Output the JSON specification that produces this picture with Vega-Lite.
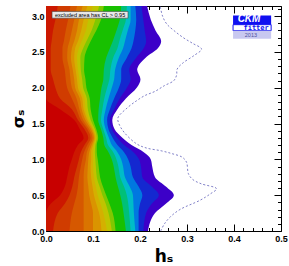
{
  "$schema": "https://vega.github.io/schema/vega-lite/v6.json",
  "width": 235,
  "height": 225,
  "autosize": {"type": "none"},
  "padding": {"left": 46, "top": 6, "right": 8, "bottom": 35},
  "background": "white",
  "config": {"view": {"stroke": "black", "strokeWidth": 1}, "font": "Liberation Sans"},
  "datasets": {
    "cl": [
      {"s": 0, "t1": 0, "t2": 0.015, "t3": 0.05, "t4": 0.08, "t5": 0.1, "t6": 0.118, "t7": 0.13, "t8": 0.14, "t9": 0.148, "t10": 0.17, "t11": 0.18, "t12": 0.19, "t13": 0.197, "t14": 0.207, "t15": 0.217},
      {"s": 0.25, "t1": 0, "t2": 0.025, "t3": 0.055, "t4": 0.08, "t5": 0.1, "t6": 0.113, "t7": 0.122, "t8": 0.133, "t9": 0.142, "t10": 0.165, "t11": 0.177, "t12": 0.187, "t13": 0.197, "t14": 0.213, "t15": 0.232},
      {"s": 0.38, "t1": 0.01, "t2": 0.04, "t3": 0.06, "t4": 0.08, "t5": 0.096, "t6": 0.107, "t7": 0.116, "t8": 0.127, "t9": 0.135, "t10": 0.162, "t11": 0.175, "t12": 0.186, "t13": 0.2, "t14": 0.225, "t15": 0.255},
      {"s": 0.5, "t1": 0.03, "t2": 0.05, "t3": 0.065, "t4": 0.08, "t5": 0.092, "t6": 0.102, "t7": 0.11, "t8": 0.12, "t9": 0.128, "t10": 0.158, "t11": 0.172, "t12": 0.185, "t13": 0.205, "t14": 0.24, "t15": 0.272},
      {"s": 0.62, "t1": 0.04, "t2": 0.056, "t3": 0.068, "t4": 0.08, "t5": 0.09, "t6": 0.099, "t7": 0.106, "t8": 0.114, "t9": 0.121, "t10": 0.153, "t11": 0.166, "t12": 0.178, "t13": 0.197, "t14": 0.225, "t15": 0.255},
      {"s": 0.75, "t1": 0.045, "t2": 0.06, "t3": 0.07, "t4": 0.08, "t5": 0.088, "t6": 0.096, "t7": 0.102, "t8": 0.108, "t9": 0.115, "t10": 0.148, "t11": 0.158, "t12": 0.168, "t13": 0.185, "t14": 0.205, "t15": 0.232},
      {"s": 0.9, "t1": 0.05, "t2": 0.066, "t3": 0.074, "t4": 0.082, "t5": 0.089, "t6": 0.095, "t7": 0.1, "t8": 0.106, "t9": 0.112, "t10": 0.144, "t11": 0.154, "t12": 0.164, "t13": 0.18, "t14": 0.202, "t15": 0.226},
      {"s": 1.0, "t1": 0.055, "t2": 0.07, "t3": 0.077, "t4": 0.085, "t5": 0.09, "t6": 0.096, "t7": 0.1, "t8": 0.105, "t9": 0.11, "t10": 0.14, "t11": 0.15, "t12": 0.16, "t13": 0.175, "t14": 0.198, "t15": 0.223},
      {"s": 1.1, "t1": 0.06, "t2": 0.074, "t3": 0.081, "t4": 0.087, "t5": 0.092, "t6": 0.096, "t7": 0.1, "t8": 0.104, "t9": 0.108, "t10": 0.133, "t11": 0.143, "t12": 0.152, "t13": 0.166, "t14": 0.186, "t15": 0.208},
      {"s": 1.2, "t1": 0.068, "t2": 0.082, "t3": 0.088, "t4": 0.093, "t5": 0.097, "t6": 0.1, "t7": 0.102, "t8": 0.105, "t9": 0.108, "t10": 0.124, "t11": 0.132, "t12": 0.14, "t13": 0.152, "t14": 0.166, "t15": 0.182},
      {"s": 1.3, "t1": 0.08, "t2": 0.09, "t3": 0.095, "t4": 0.099, "t5": 0.102, "t6": 0.104, "t7": 0.106, "t8": 0.108, "t9": 0.111, "t10": 0.122, "t11": 0.128, "t12": 0.134, "t13": 0.142, "t14": 0.152, "t15": 0.163},
      {"s": 1.42, "t1": 0.072, "t2": 0.082, "t3": 0.088, "t4": 0.092, "t5": 0.096, "t6": 0.099, "t7": 0.101, "t8": 0.104, "t9": 0.107, "t10": 0.117, "t11": 0.122, "t12": 0.127, "t13": 0.133, "t14": 0.14, "t15": 0.146},
      {"s": 1.55, "t1": 0.06, "t2": 0.068, "t3": 0.074, "t4": 0.079, "t5": 0.084, "t6": 0.088, "t7": 0.091, "t8": 0.095, "t9": 0.1, "t10": 0.111, "t11": 0.117, "t12": 0.123, "t13": 0.13, "t14": 0.136, "t15": 0.141},
      {"s": 1.7, "t1": 0.03, "t2": 0.055, "t3": 0.065, "t4": 0.071, "t5": 0.076, "t6": 0.08, "t7": 0.084, "t8": 0.089, "t9": 0.095, "t10": 0.112, "t11": 0.12, "t12": 0.127, "t13": 0.136, "t14": 0.145, "t15": 0.152},
      {"s": 1.85, "t1": 0, "t2": 0.03, "t3": 0.055, "t4": 0.065, "t5": 0.072, "t6": 0.077, "t7": 0.082, "t8": 0.087, "t9": 0.093, "t10": 0.115, "t11": 0.124, "t12": 0.133, "t13": 0.145, "t14": 0.157, "t15": 0.17},
      {"s": 2.0, "t1": 0, "t2": 0.02, "t3": 0.045, "t4": 0.055, "t5": 0.062, "t6": 0.068, "t7": 0.073, "t8": 0.079, "t9": 0.086, "t10": 0.118, "t11": 0.13, "t12": 0.14, "t13": 0.155, "t14": 0.172, "t15": 0.193},
      {"s": 2.12, "t1": 0, "t2": 0.015, "t3": 0.042, "t4": 0.052, "t5": 0.06, "t6": 0.066, "t7": 0.071, "t8": 0.077, "t9": 0.084, "t10": 0.122, "t11": 0.135, "t12": 0.145, "t13": 0.16, "t14": 0.18, "t15": 0.201},
      {"s": 2.25, "t1": 0, "t2": 0.01, "t3": 0.04, "t4": 0.05, "t5": 0.057, "t6": 0.063, "t7": 0.068, "t8": 0.074, "t9": 0.081, "t10": 0.123, "t11": 0.137, "t12": 0.147, "t13": 0.16, "t14": 0.177, "t15": 0.194},
      {"s": 2.42, "t1": 0, "t2": 0.01, "t3": 0.035, "t4": 0.045, "t5": 0.053, "t6": 0.06, "t7": 0.066, "t8": 0.073, "t9": 0.082, "t10": 0.128, "t11": 0.143, "t12": 0.155, "t13": 0.172, "t14": 0.192, "t15": 0.212},
      {"s": 2.55, "t1": 0, "t2": 0.01, "t3": 0.035, "t4": 0.046, "t5": 0.055, "t6": 0.062, "t7": 0.07, "t8": 0.079, "t9": 0.088, "t10": 0.136, "t11": 0.152, "t12": 0.164, "t13": 0.182, "t14": 0.208, "t15": 0.238},
      {"s": 2.65, "t1": 0, "t2": 0.012, "t3": 0.038, "t4": 0.05, "t5": 0.06, "t6": 0.068, "t7": 0.076, "t8": 0.086, "t9": 0.095, "t10": 0.142, "t11": 0.156, "t12": 0.168, "t13": 0.186, "t14": 0.213, "t15": 0.245},
      {"s": 2.8, "t1": 0, "t2": 0.015, "t3": 0.042, "t4": 0.055, "t5": 0.066, "t6": 0.075, "t7": 0.085, "t8": 0.097, "t9": 0.107, "t10": 0.15, "t11": 0.163, "t12": 0.174, "t13": 0.19, "t14": 0.21, "t15": 0.233},
      {"s": 2.95, "t1": 0, "t2": 0.02, "t3": 0.047, "t4": 0.06, "t5": 0.07, "t6": 0.08, "t7": 0.09, "t8": 0.105, "t9": 0.117, "t10": 0.157, "t11": 0.17, "t12": 0.18, "t13": 0.192, "t14": 0.207, "t15": 0.223},
      {"s": 3.1416, "t1": 0, "t2": 0.025, "t3": 0.052, "t4": 0.066, "t5": 0.078, "t6": 0.088, "t7": 0.1, "t8": 0.113, "t9": 0.123, "t10": 0.16, "t11": 0.172, "t12": 0.18, "t13": 0.19, "t14": 0.203, "t15": 0.215}
    ],
    "dash": [
      {"s": 0.0, "h": 0.244}, {"s": 0.1, "h": 0.252}, {"s": 0.2, "h": 0.265}, {"s": 0.3, "h": 0.285},
      {"s": 0.43, "h": 0.328}, {"s": 0.52, "h": 0.35}, {"s": 0.59, "h": 0.363}, {"s": 0.66, "h": 0.33},
      {"s": 0.72, "h": 0.312}, {"s": 0.8, "h": 0.303}, {"s": 0.96, "h": 0.299}, {"s": 1.03, "h": 0.29},
      {"s": 1.08, "h": 0.268}, {"s": 1.12, "h": 0.245}, {"s": 1.16, "h": 0.213}, {"s": 1.22, "h": 0.192},
      {"s": 1.38, "h": 0.166}, {"s": 1.5, "h": 0.155}, {"s": 1.58, "h": 0.153}, {"s": 1.72, "h": 0.173},
      {"s": 1.82, "h": 0.193}, {"s": 1.89, "h": 0.21}, {"s": 1.95, "h": 0.232}, {"s": 2.03, "h": 0.252},
      {"s": 2.1, "h": 0.272}, {"s": 2.18, "h": 0.278}, {"s": 2.26, "h": 0.279}, {"s": 2.35, "h": 0.292},
      {"s": 2.45, "h": 0.315}, {"s": 2.54, "h": 0.331}, {"s": 2.62, "h": 0.312}, {"s": 2.7, "h": 0.292},
      {"s": 2.8, "h": 0.272}, {"s": 2.89, "h": 0.257}, {"s": 3.0, "h": 0.248}, {"s": 3.1416, "h": 0.243}
    ],
    "box": [{"a": 0.0128, "b": 0.1745, "lo": 2.972, "hi": 3.066}],
    "boxtext": [{"t": "excluded area has CL > 0.95", "h": 0.019, "s": 3.019}],
    "logoBlue": [{"a": 0.398, "b": 0.479, "lo": 2.881, "hi": 3.01}],
    "logoWhite": [{"a": 0.398, "b": 0.479, "lo": 2.797, "hi": 2.881}],
    "logoLav": [{"a": 0.398, "b": 0.479, "lo": 2.683, "hi": 2.797}],
    "tCKM": [{"t": "CKM", "h": 0.432, "s": 2.958}],
    "tFit": [{"t": "fitter", "h": 0.447, "s": 2.836}],
    "tYear": [{"t": "2013", "h": 0.436, "s": 2.738}]
  },
  "layer": [
    {
      "data": {"name": "cl"},
      "transform": [{"fold": ["t15", "t14", "t13", "t12", "t11", "t10", "t9", "t8", "t7", "t6", "t5", "t4", "t3", "t2", "t1"], "as": ["band", "h"]}],
      "mark": {"type": "area", "orient": "horizontal", "interpolate": "monotone", "clip": true, "strokeWidth": 0},
      "encoding": {
        "y": {"field": "s", "type": "quantitative", "scale": {"domain": [0, 3.1416], "nice": false, "zero": false},
          "axis": {"orient": "left", "values": [0,0.1,0.2,0.3,0.4,0.5,0.6,0.7,0.8,0.9,1,1.1,1.2,1.3,1.4,1.5,1.6,1.7,1.8,1.9,2,2.1,2.2,2.3,2.4,2.5,2.6,2.7,2.8,2.9,3,3.1],
            "labelExpr": "abs(datum.value*2 - round(datum.value*2)) < 0.001 ? format(datum.value, '.1f') : ''",
            "tickSize": {"condition": {"test": "abs(datum.value*2 - round(datum.value*2)) < 0.001", "value": -7}, "value": -3.5},
            "tickColor": "black", "domain": false, "grid": false, "labelOverlap": false, "labelFlush": false, "labelBound": false,
            "labelFont": "Liberation Sans", "labelFontWeight": "bold", "labelFontSize": 9, "labelColor": "black", "labelPadding": 9,
            "title": "σₛ", "titleFont": "DejaVu Sans", "titleFontSize": 16, "titleFontWeight": "bold", "titleColor": "black", "titlePadding": 5}},
        "x": {"field": "h", "type": "quantitative", "stack": null, "scale": {"domain": [0, 0.5], "nice": false, "zero": false},
          "axis": {"orient": "bottom", "values": [0,0.02,0.04,0.06,0.08,0.1,0.12,0.14,0.16,0.18,0.2,0.22,0.24,0.26,0.28,0.3,0.32,0.34,0.36,0.38,0.4,0.42,0.44,0.46,0.48,0.5],
            "labelExpr": "abs(datum.value*10 - round(datum.value*10)) < 0.001 ? format(datum.value, '.1f') : ''",
            "tickSize": {"condition": {"test": "abs(datum.value*10 - round(datum.value*10)) < 0.001", "value": -7}, "value": -3.5},
            "tickColor": "black", "domain": false, "grid": false, "labelOverlap": false, "labelFlush": false, "labelBound": false,
            "labelFont": "Liberation Sans", "labelFontWeight": "bold", "labelFontSize": 9, "labelColor": "black", "labelPadding": 10,
            "title": "hₛ", "titleFont": "DejaVu Sans", "titleFontSize": 17, "titleFontWeight": "bold", "titleColor": "black", "titlePadding": 2}},
        "color": {"field": "band", "type": "nominal", "legend": null,
          "scale": {"domain": ["t15", "t14", "t13", "t12", "t11", "t10", "t9", "t8", "t7", "t6", "t5", "t4", "t3", "t2", "t1"],
            "range": ["#3c00c8", "#1428d0", "#0078e0", "#00bcc8", "#00c078", "#18c000", "#80c800", "#c0c400", "#d4b000", "#da9400", "#da7400", "#d65800", "#d03c00", "#cc1800", "#c80000"]}}
      }
    },
    {
      "data": {"name": "dash"},
      "mark": {"type": "line", "interpolate": "catmull-rom", "strokeDash": [2, 2], "strokeWidth": 1, "color": "#8080c8", "clip": true},
      "encoding": {
        "y": {"field": "s", "type": "quantitative",
          "axis": {"orient": "right", "values": [0,0.1,0.2,0.3,0.4,0.5,0.6,0.7,0.8,0.9,1,1.1,1.2,1.3,1.4,1.5,1.6,1.7,1.8,1.9,2,2.1,2.2,2.3,2.4,2.5,2.6,2.7,2.8,2.9,3,3.1],
            "labels": false, "title": null, "domain": false, "grid": false, "tickColor": "black",
            "tickSize": {"condition": {"test": "abs(datum.value*2 - round(datum.value*2)) < 0.001", "value": -7}, "value": -3.5}}},
        "x": {"field": "h", "type": "quantitative",
          "axis": {"orient": "top", "values": [0,0.02,0.04,0.06,0.08,0.1,0.12,0.14,0.16,0.18,0.2,0.22,0.24,0.26,0.28,0.3,0.32,0.34,0.36,0.38,0.4,0.42,0.44,0.46,0.48,0.5],
            "labels": false, "title": null, "domain": false, "grid": false, "tickColor": "black",
            "tickSize": {"condition": {"test": "abs(datum.value*10 - round(datum.value*10)) < 0.001", "value": -7}, "value": -3.5}}},
        "order": {"field": "s", "type": "quantitative"}
      }
    },
    {
      "data": {"name": "box"},
      "mark": {"type": "rect", "fill": "#e8e8e8", "stroke": "#404040", "strokeWidth": 0.6},
      "encoding": {
        "x": {"field": "a", "type": "quantitative", "axis": null}, "x2": {"field": "b"},
        "y": {"field": "lo", "type": "quantitative", "axis": null}, "y2": {"field": "hi"}
      }
    },
    {
      "data": {"name": "boxtext"},
      "mark": {"type": "text", "align": "left", "baseline": "middle", "fontSize": 5.5, "font": "Liberation Sans", "color": "black"},
      "encoding": {
        "x": {"field": "h", "type": "quantitative", "axis": null},
        "y": {"field": "s", "type": "quantitative", "axis": null},
        "text": {"field": "t"}
      }
    },
    {
      "data": {"name": "logoBlue"},
      "mark": {"type": "rect", "fill": "#1010f0", "strokeWidth": 0},
      "encoding": {
        "x": {"field": "a", "type": "quantitative", "axis": null}, "x2": {"field": "b"},
        "y": {"field": "lo", "type": "quantitative", "axis": null}, "y2": {"field": "hi"}
      }
    },
    {
      "data": {"name": "logoWhite"},
      "mark": {"type": "rect", "fill": "white", "stroke": "#1010f0", "strokeWidth": 1},
      "encoding": {
        "x": {"field": "a", "type": "quantitative", "axis": null}, "x2": {"field": "b"},
        "y": {"field": "lo", "type": "quantitative", "axis": null}, "y2": {"field": "hi"}
      }
    },
    {
      "data": {"name": "logoLav"},
      "mark": {"type": "rect", "fill": "#c8c8f0", "strokeWidth": 0},
      "encoding": {
        "x": {"field": "a", "type": "quantitative", "axis": null}, "x2": {"field": "b"},
        "y": {"field": "lo", "type": "quantitative", "axis": null}, "y2": {"field": "hi"}
      }
    },
    {
      "data": {"name": "tCKM"},
      "mark": {"type": "text", "align": "center", "baseline": "middle", "fontSize": 10, "font": "Liberation Sans", "fontStyle": "italic", "fontWeight": "bold", "color": "white"},
      "encoding": {
        "x": {"field": "h", "type": "quantitative", "axis": null},
        "y": {"field": "s", "type": "quantitative", "axis": null},
        "text": {"field": "t"}
      }
    },
    {
      "data": {"name": "tFit"},
      "mark": {"type": "text", "align": "center", "baseline": "middle", "fontSize": 7, "font": "DejaVu Sans Mono", "fontWeight": "bold", "color": "#1010f0"},
      "encoding": {
        "x": {"field": "h", "type": "quantitative", "axis": null},
        "y": {"field": "s", "type": "quantitative", "axis": null},
        "text": {"field": "t"}
      }
    },
    {
      "data": {"name": "tYear"},
      "mark": {"type": "text", "align": "center", "baseline": "middle", "fontSize": 5.5, "font": "Liberation Sans", "color": "#5050a0"},
      "encoding": {
        "x": {"field": "h", "type": "quantitative", "axis": null},
        "y": {"field": "s", "type": "quantitative", "axis": null},
        "text": {"field": "t"}
      }
    }
  ],
  "resolve": {"axis": {"x": "independent", "y": "independent"}}
}
